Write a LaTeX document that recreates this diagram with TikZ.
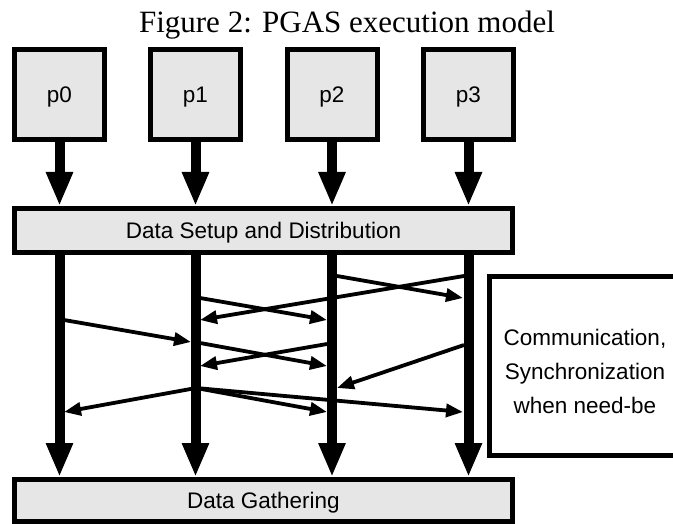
\documentclass[tikz,border=0pt]{standalone}
\usepackage{fontspec}
\setmainfont{Liberation Serif}
\newfontfamily\labelfont{Liberation Sans}
\usetikzlibrary{arrows.meta}
\definecolor{boxgray}{HTML}{E6E6E6}
\tikzset{
  labeltext/.style={font=\labelfont\fontsize{22.5}{26}\selectfont, text depth=0pt},
  procbox/.style={draw, line width=5pt, fill=boxgray, minimum width=90pt, minimum height=90pt,
    inner sep=0pt, labeltext},
  phasebox/.style={draw, line width=5pt, fill=boxgray, minimum width=498pt, inner sep=0pt, labeltext},
  notebox/.style={draw, line width=5pt, fill=white, minimum width=188pt, minimum height=179pt,
    inner sep=0pt, align=center, font=\labelfont\fontsize{22.5}{34}\selectfont},
  flow/.style={line width=10pt, -{Triangle[length=34pt,width=25pt]}},
  msg/.style={line width=3.8pt, -{Triangle[length=17pt,width=13pt]}},
}
\begin{document}
\begin{tikzpicture}[x=1pt,y=-1pt]
\useasboundingbox (0,0) rectangle (673,524);

% caption
\node[anchor=base, inner sep=0pt] (title) at (347,33) {\fontsize{31}{34}\selectfont Figure 2: PGAS execution model};

% processes
\node[procbox] (p0) at (59.5,94.5) {p0};
\node[procbox] (p1) at (195.5,94.5) {p1};
\node[procbox] (p2) at (332,94.5) {p2};
\node[procbox] (p3) at (468.5,94.5) {p3};

% phases
\node[phasebox, minimum height=44pt] (setup)  at (263.5,230.5) {Data Setup and Distribution};
\node[phasebox, minimum height=42pt] (gather) at (263.5,500.5) {Data Gathering};

% side note (the strut on the first line lowers the text block a little)
\node[notebox] (comm) at (583.5,366)
  {\rule{0pt}{27pt}\hspace*{3pt}Communication,\\\hspace*{3pt}Synchronization\\\hspace*{3pt}when need-be};

% process to setup
\foreach \p in {p0,p1,p2,p3}
  \draw[flow] (\p.south) -- (\p.south |- setup.north);

% lanes from setup to gathering
\foreach \p in {p0,p1,p2,p3}
  \draw[flow] (\p.south |- setup.south) -- (\p.south |- gather.north);

% message end points on the lanes
\coordinate (m1s) at (337,276); \coordinate (m1e) at (463,298);
\coordinate (m2s) at (464,276); \coordinate (m2e) at (200,320);
\coordinate (m3s) at (200,298); \coordinate (m3e) at (327,320);
\coordinate (m4s) at (64,320);  \coordinate (m4e) at (191,342);
\coordinate (m5s) at (200,343); \coordinate (m5e) at (327,366);
\coordinate (m6s) at (327,344); \coordinate (m6e) at (200,366);
\coordinate (m7s) at (464,345); \coordinate (m7e) at (337,388);
\coordinate (m8s) at (196,388);
\coordinate (m8a) at (64,412);  \coordinate (m8b) at (327,412); \coordinate (m8c) at (463,412);

% messages
\draw[msg] (m1s) -- (m1e);
\draw[msg] (m2s) -- (m2e);
\draw[msg] (m3s) -- (m3e);
\draw[msg] (m4s) -- (m4e);
\draw[msg] (m5s) -- (m5e);
\draw[msg] (m6s) -- (m6e);
\draw[msg] (m7s) -- (m7e);
\draw[msg] (m8s) -- (m8a);
\draw[msg] (m8s) -- (m8b);
\draw[msg] (m8s) -- (m8c);
\end{tikzpicture}
\end{document}
